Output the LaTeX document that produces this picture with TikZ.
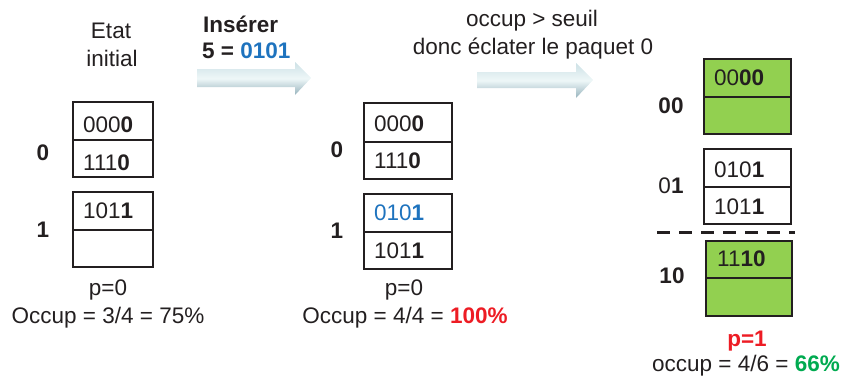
\documentclass[tikz,border=0pt]{standalone}
\usepackage{fontspec}
\setmainfont{Liberation Sans}
\usepackage{xcolor}
\usepackage{tikz}

\definecolor{vert}{RGB}{146,208,80}
\definecolor{bleu}{RGB}{30,115,190}
\definecolor{rouge}{RGB}{237,28,36}
\definecolor{vertfonce}{RGB}{0,170,80}
\definecolor{encre}{RGB}{35,31,32}
\definecolor{fleche1}{RGB}{205,225,230}
\definecolor{fleche2}{RGB}{238,247,248}
\definecolor{fleche3}{RGB}{150,178,188}

\tikzset{
	case/.style={draw=encre, line width=1.2},
	txt/.style={anchor=base, inner sep=0, text=encre},
	cellule/.style={anchor=base west, inner sep=0, text=encre},
	fleche/.style={top color=fleche1, bottom color=fleche3, middle color=fleche2}
}

\begin{document}
\begin{tikzpicture}[x=1pt, y=-1pt, font=\fontsize{22.5}{27}\selectfont]

\useasboundingbox (0,0) rectangle (848,378);

\shade[fleche] (197,69)--(295,69)--(295,62)--(311,78)--(295,95)--(295,87)--(197,87)--cycle;
\shade[fleche] (477,72)--(576,72)--(576,63)--(593,80)--(576,98)--(576,88)--(477,88)--cycle;

\node[txt] (etat) at (111,38) {Etat};
\node[txt] (initial) at (112,66) {initial};

\node[cellule] (inserer) at (203,32) {\textbf{Insérer}};
\node[cellule] (cle) at (202,58) {\textbf{5 = \textcolor{bleu}{0101}}};

\node[txt] (seuil) at (532,26) {occup > seuil};
\node[txt] (eclater) at (533,54) {donc éclater le paquet 0};

\def \b {73}
\def \c {102}
\draw[case] (\b,\c)--(\b+80,\c)--(\b+80,\c+75)--(\b,\c+75)--cycle;
\draw[case] (\b,\c+38)--(\b+80,\c+38);

\def \b {73}
\def \c {192}
\draw[case] (\b,\c)--(\b+80,\c)--(\b+80,\c+75)--(\b,\c+75)--cycle;
\draw[case] (\b,\c+38)--(\b+80,\c+38);

\node[txt] (g0) at (43,160) {\textbf{0}};
\node[txt] (g1) at (43,237) {\textbf{1}};
\node[cellule] (ga1) at (83,132) {000\textbf{0}};
\node[cellule] (ga2) at (83,170) {111\textbf{0}};
\node[cellule] (gb1) at (83,218) {101\textbf{1}};
\node[txt] (gp) at (108,295) {p=0};
\node[txt] (goccup) at (108,323) {Occup = 3/4 = 75\%};

\def \b {364}
\def \c {103}
\draw[case] (\b,\c)--(\b+88,\c)--(\b+88,\c+76)--(\b,\c+76)--cycle;
\draw[case] (\b,\c+39)--(\b+88,\c+39);

\def \b {364}
\def \c {194}
\draw[case] (\b,\c)--(\b+88,\c)--(\b+88,\c+75)--(\b,\c+75)--cycle;
\draw[case] (\b,\c+38)--(\b+88,\c+38);

\node[txt] (m0) at (337,157) {\textbf{0}};
\node[txt] (m1) at (337,238) {\textbf{1}};
\node[cellule] (ma1) at (374,131) {000\textbf{0}};
\node[cellule] (ma2) at (374,168) {111\textbf{0}};
\node[cellule, text=bleu] (mb1) at (374,220) {010\textbf{1}};
\node[cellule] (mb2) at (374,258) {101\textbf{1}};
\node[txt] (mp) at (404,295) {p=0};
\node[txt] (moccup) at (405,323) {Occup = 4/4 = \textcolor{rouge}{\textbf{100\%}}};

\def \b {704}
\def \c {59}
\draw[case, fill=vert] (\b,\c)--(\b+87,\c)--(\b+87,\c+75)--(\b,\c+75)--cycle;
\draw[case] (\b,\c+38)--(\b+87,\c+38);

\def \b {704}
\def \c {149}
\draw[case] (\b,\c)--(\b+87,\c)--(\b+87,\c+75)--(\b,\c+75)--cycle;
\draw[case] (\b,\c+38)--(\b+87,\c+38);

\def \b {706}
\def \c {241}
\draw[case, fill=vert] (\b,\c)--(\b+86,\c)--(\b+86,\c+75)--(\b,\c+75)--cycle;
\draw[case] (\b,\c+37)--(\b+86,\c+37);

\draw[encre, line width=3, dash pattern=on 13pt off 9pt] (657,232)--(795,232);

\node[txt] (d00) at (671,113) {\textbf{00}};
\node[txt] (d01) at (671,193) {0\textbf{1}};
\node[txt] (d10) at (672,283) {\textbf{10}};
\node[cellule] (da1) at (714,85) {00\textbf{00}};
\node[cellule] (db1) at (714,177) {010\textbf{1}};
\node[cellule] (db2) at (714,214) {101\textbf{1}};
\node[cellule] (dc1) at (717,266) {11\textbf{10}};
\node[txt, text=rouge] (dp) at (747,346) {\textbf{p=1}};
\node[txt] (doccup) at (746,371) {occup = 4/6 = \textcolor{vertfonce}{\textbf{66\%}}};

\end{tikzpicture}
\end{document}
